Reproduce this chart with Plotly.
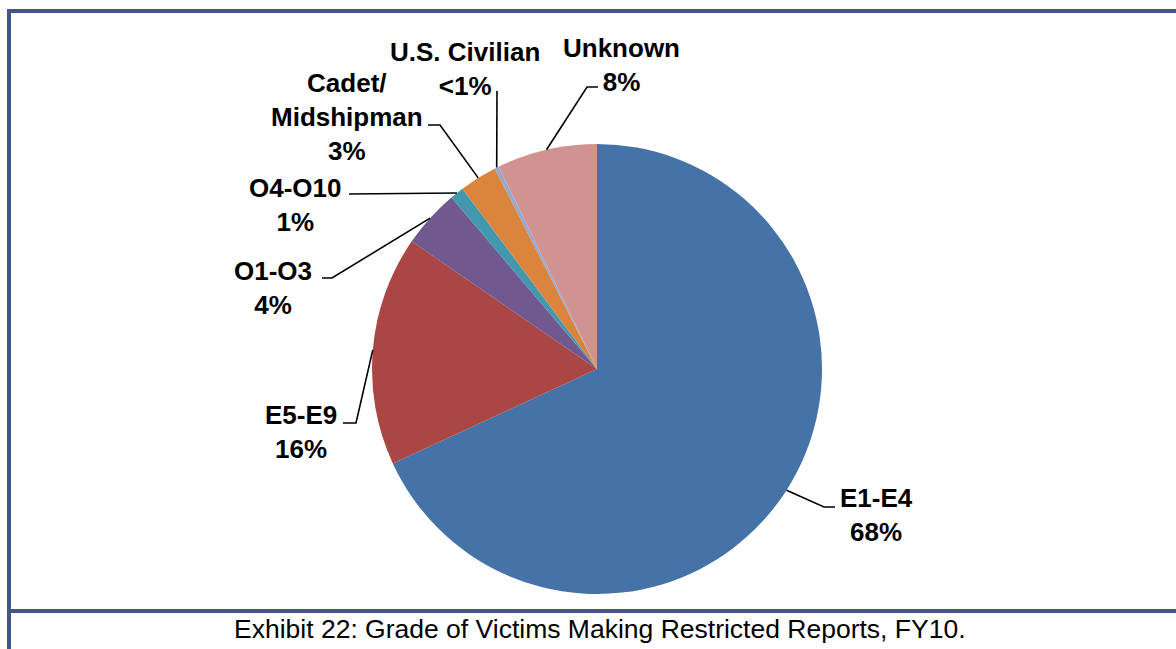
import numpy as np
import plotly.graph_objects as go

# data
grades = ["E1-E4", "E5-E9", "O1-O3", "O4-O10", "Cadet/Midshipman", "U.S. Civilian", "Unknown"]
names = ["E1-E4", "E5-E9", "O1-O3", "O4-O10", "Cadet/<br>Midshipman", "U.S. Civilian", "Unknown"]
shares = [68.1, 16.5, 4.2, 1.0, 2.7, 0.3, 7.2]
pct_text = ["68%", "16%", "4%", "1%", "3%", "<1%", "8%"]
colors = ["#4572A7", "#AA4643", "#71588F", "#4198AF", "#DB843D", "#93A9CF", "#D19392"]

W, H = 1176, 649
cx, cy, R = 597, 369, 225
frame = "#44558A"
label_font = dict(family="Liberation Sans, Arial", size=26, color="black")

# label layout in pixels: elbow points of the leader line, then label centre
leaders = {
    "E1-E4": dict(pts=[(824, 507), (835, 507)], lab=(876, 515)),
    "E5-E9": dict(pts=[(356, 423), (343, 423)], lab=(301, 432)),
    "O1-O3": dict(pts=[(332, 278), (322, 278)], lab=(273, 288)),
    "O4-O10": dict(pts=[(349, 194)], lab=(295, 205)),
    "Cadet/Midshipman": dict(pts=[(440, 125), (428, 125)], lab=(347, 117)),
    "U.S. Civilian": dict(pts=[(497, 91)], lab=(465, 69)),
    "Unknown": dict(pts=[(587, 87), (598, 87)], lab=(621, 65)),
}

fig = go.Figure()

fig.add_trace(go.Pie(
    values=shares, labels=grades, sort=False, direction="clockwise", rotation=0,
    marker=dict(colors=colors, line=dict(width=0)),
    textinfo="none", hoverinfo="label+percent", showlegend=False,
    domain=dict(x=[(cx - R) / W, (cx + R) / W], y=[1 - (cy + R) / H, 1 - (cy - R) / H]),
))

# leader lines from the middle of each slice edge
vals = np.array(shares) / np.sum(shares)
start = np.concatenate([[0], np.cumsum(vals)[:-1]])
mid = (start + vals / 2) * 2 * np.pi
shapes = []
for g, a in zip(grades, mid):
    ex, ey = cx + R * np.sin(a), cy - R * np.cos(a)
    pts = [(ex, ey)] + leaders[g]["pts"]
    path = "M " + " L ".join(f"{x:.1f},{y:.1f}" for x, y in pts)
    shapes.append(dict(type="path", path=path, xref="x", yref="y",
                       line=dict(color="black", width=1.6), layer="above"))

annotations = []
for g, n, p in zip(grades, names, pct_text):
    lx, ly = leaders[g]["lab"]
    annotations.append(dict(x=lx, y=ly, xref="x", yref="y", text=f"<b>{n}<br>{p}</b>",
                            showarrow=False, xanchor="center", yanchor="middle",
                            align="center", font=label_font))

annotations.append(dict(x=600, y=629, xref="x", yref="y",
                        text="Exhibit 22: Grade of Victims Making Restricted Reports, FY10.",
                        showarrow=False, xanchor="center", yanchor="middle",
                        font=dict(family="Liberation Sans, Arial", size=26.5, color="black")))

# frame lines
for x0, y0, x1, y1 in [(7, 11, W, 11), (9, 11, 9, H), (9, 611, W, 611)]:
    shapes.append(dict(type="line", x0=x0, y0=y0, x1=x1, y1=y1, xref="x", yref="y",
                       line=dict(color=frame, width=4), layer="above"))

fig.update_layout(
    width=W, height=H, margin=dict(l=0, r=0, t=0, b=0),
    paper_bgcolor="white", plot_bgcolor="rgba(0,0,0,0)",
    xaxis=dict(range=[0, W], visible=False, fixedrange=True),
    yaxis=dict(range=[H, 0], visible=False, fixedrange=True),
    shapes=shapes, annotations=annotations,
)

fig.write_html("out.html", config={"displayModeBar": False},
               post_script="document.body.style.margin='0';")
